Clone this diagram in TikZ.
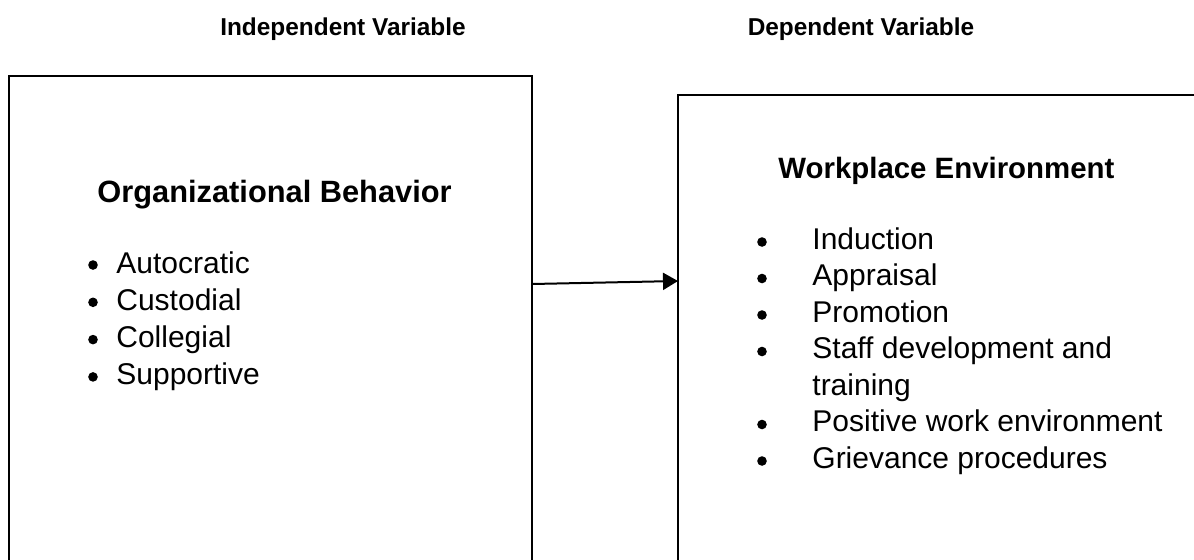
\documentclass[tikz,border=0pt]{standalone}
\usepackage{fontspec}
\setmainfont{Liberation Sans}
\usetikzlibrary{arrows.meta}

\tikzset{
	varbox/.style={draw, line width=1pt, inner sep=0pt, outer sep=0pt},
	varhead/.style={font=\bfseries\fontsize{12.2}{15}\selectfont, anchor=base, inner sep=0pt},
	boxtitle/.style={font=\bfseries\fontsize{15}{18}\selectfont, anchor=base west, inner sep=0pt},
	listitem/.style={font=\fontsize{15}{18.25}\selectfont, anchor=base west, inner sep=0pt},
	dot/.style={circle, fill, inner sep=0pt, minimum size=4.8pt}
}

\begin{document}
\begin{tikzpicture}[x=0.5pt, y=-0.5pt]
	\useasboundingbox (0,0) rectangle (1194,559);
	% headings
	\node (indep) at (343,35) [varhead] {Independent Variable};
	\node (dep) at (861,35) [varhead] {Dependent Variable};
	% boxes
	\node (ob) at (9,76) [varbox, anchor=north west, minimum width=261.5pt, minimum height=260pt] {};
	\node (we) at (678,95) [varbox, anchor=north west, minimum width=270pt, minimum height=260pt] {};
	% left box
	\node (obtitle) at (97,202) [boxtitle, font=\bfseries\fontsize{15.4}{18}\selectfont] {Organizational Behavior};
	\foreach \txt [count=\i] in {Autocratic, Custodial, Collegial, Supportive} {
		\node (obdot\i) at (93,{265+37.3*(\i-1)}) [dot] {};
		\node (obitem\i) at (116,{273+37.3*(\i-1)}) [listitem] {\txt};
	}
	% right box
	\node (wetitle) at (778,178) [boxtitle, font=\bfseries\fontsize{14.7}{18}\selectfont] {Workplace Environment};
	\foreach \txt/\k in {Induction/0, Appraisal/1, Promotion/2, Staff development and/3,
		Positive work environment/5, Grievance procedures/6} {
		\node (wedot\k) at (762,{242+36.5*\k}) [dot] {};
		\node (weitem\k) at (812,{249+36.5*\k}) [listitem] {\txt};
	}
	\node (weitem4) at (812,{249+36.5*4}) [listitem] {training};
	% connector
	\coordinate (obout) at (532,284);
	\coordinate (wein) at (678,281);
	\draw[line width=1pt, -{Triangle[length=7.5pt, width=8.5pt]}] (obout) -- (wein);
\end{tikzpicture}
\end{document}
